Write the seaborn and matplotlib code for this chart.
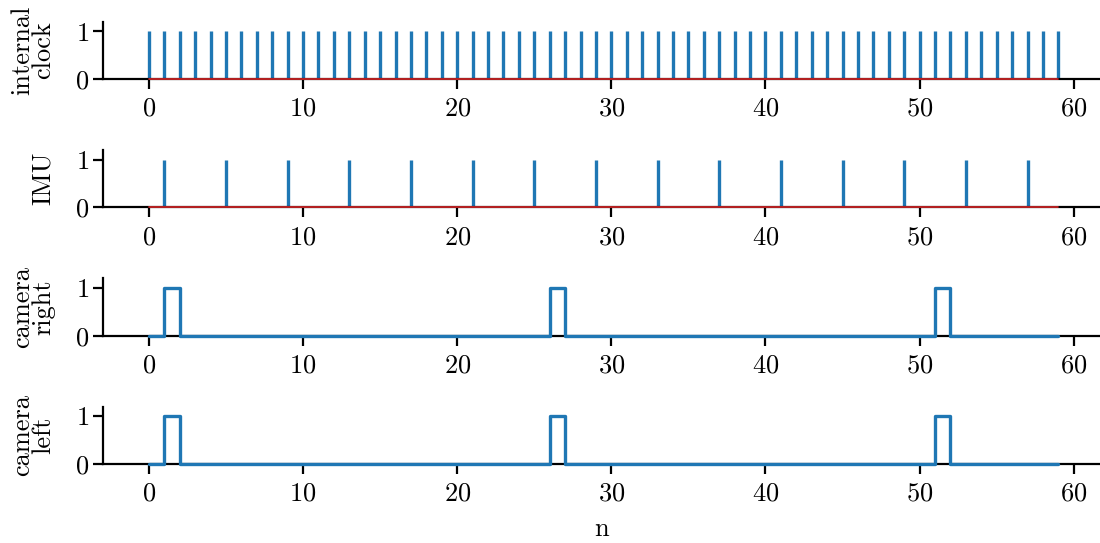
import numpy as np
import pandas as pd
import seaborn as sns
import matplotlib.pyplot as plt

# amostras e instantes de disparo de cada sinal
n_amostras = 60
pulsos_imu = [1, 5, 9, 13, 17, 21, 25, 29, 33, 37, 41, 45, 49, 53, 57]
pulsos_camera_dir = [1, 26, 51]
pulsos_camera_esq = [1, 26, 51]
rotulos = ["internal\nclock", "IMU", "camera\nright", "camera\nleft"]
ticks_x = [0, 10, 20, 30, 40, 50, 60]
ticks_y = [0, 1]


def sinal(pulsos):
    s = np.zeros(n_amostras)
    s[pulsos] = 1
    return s


n = np.arange(n_amostras)
df = pd.DataFrame({
    "n": n,
    "clock": np.ones(n_amostras),
    "imu": sinal(pulsos_imu),
    "cam_dir": sinal(pulsos_camera_dir),
    "cam_esq": sinal(pulsos_camera_esq),
})

sns.set_style("ticks", {"axes.edgecolor": "black", "xtick.color": "black",
                        "ytick.color": "black", "text.color": "black",
                        "axes.labelcolor": "black"})
plt.rcParams["font.family"] = ["cmr10", "DejaVu Serif"]
plt.rcParams["mathtext.fontset"] = "cm"
plt.rcParams["axes.formatter.use_mathtext"] = True
plt.rcParams["font.size"] = 19
plt.rcParams["axes.linewidth"] = 1.6
plt.rcParams["xtick.major.width"] = 1.6
plt.rcParams["ytick.major.width"] = 1.6
plt.rcParams["xtick.major.size"] = 7
plt.rcParams["ytick.major.size"] = 7
plt.rcParams["xtick.major.pad"] = 6

fig, axes = plt.subplots(4, 1, figsize=(11, 5.43), dpi=100)

for ax, col in zip(axes[:2], ["clock", "imu"]):
    ml, sl, bl = ax.stem(df["n"], df[col], markerfmt=" ", basefmt="C3-")
    plt.setp(sl, color="C0", linewidth=2.4)
    plt.setp(bl, linewidth=1.2, zorder=3, clip_on=False)

for ax, col in zip(axes[2:], ["cam_dir", "cam_esq"]):
    sns.lineplot(data=df, x="n", y=col, ax=ax, drawstyle="steps-post",
                 color="C0", linewidth=2.4, clip_on=False, zorder=3)

for ax, rot in zip(axes, rotulos):
    ax.set_xlim(-2.95, 61.7)
    ax.set_ylim(0, 1.2)
    ax.set_xticks(ticks_x)
    ax.set_yticks(ticks_y)
    ax.set_ylabel(rot, fontsize=19, linespacing=0.85, labelpad=14)
    ax.set_xlabel("")
    sns.despine(ax=ax)

axes[-1].set_xlabel("n", labelpad=8)
fig.align_ylabels(axes)
fig.subplots_adjust(left=0.094, right=1.0, top=0.96, bottom=0.1455, hspace=1.233)
fig.savefig("out.png", dpi=100)
